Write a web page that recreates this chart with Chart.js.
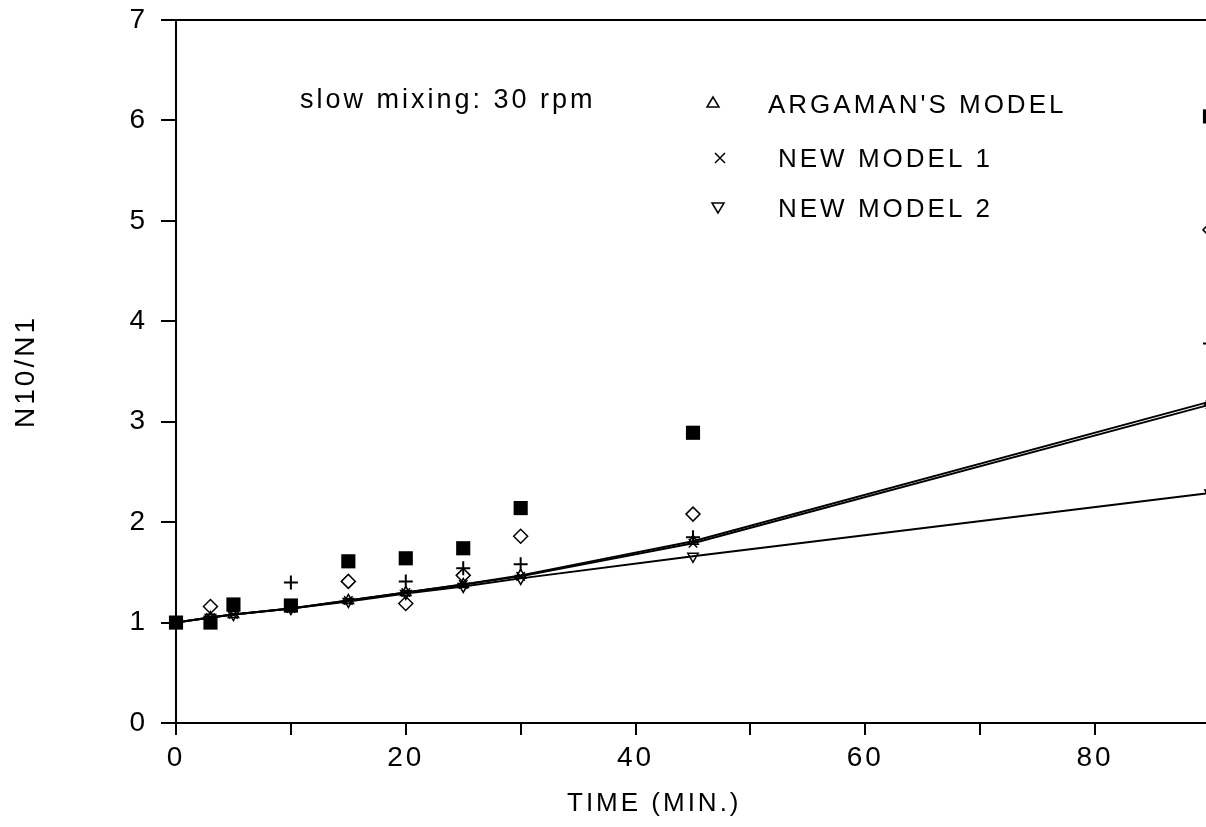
<!DOCTYPE html>
<html>
<head>
<meta charset="utf-8">
<script src="https://cdn.jsdelivr.net/npm/chart.js"></script>
<style>
html,body{margin:0;padding:0;overflow:hidden;background:#fff;width:1206px;height:827px;}
#wrap{position:absolute;left:0;top:0;width:1222px;height:827px;}
canvas{display:block;}
</style>
</head>
<body>
<div id="wrap"><canvas id="c" width="1222" height="827"></canvas></div>
<script>
// ---- data ----
const modelTime   = [0, 3, 5, 10, 15, 20, 25, 30, 45, 90];
const argaman     = [1.00, 1.05, 1.08, 1.14, 1.22, 1.30, 1.38, 1.47, 1.81, 3.20];
const newModel1   = [1.00, 1.05, 1.08, 1.14, 1.22, 1.30, 1.38, 1.46, 1.79, 3.17];
const newModel2   = [1.00, 1.05, 1.08, 1.14, 1.21, 1.29, 1.36, 1.44, 1.66, 2.29];

const squareTime  = [0, 3, 5, 10, 15, 20, 25, 30, 45, 90];
const squareVals  = [1.00, 1.00, 1.18, 1.17, 1.61, 1.64, 1.74, 2.14, 2.89, 6.04];
const diamondTime = [3, 15, 20, 25, 30, 45, 90];
const diamondVals = [1.16, 1.41, 1.19, 1.47, 1.86, 2.08, 4.91];
const plusTime    = [10, 20, 25, 30, 45, 90];
const plusVals    = [1.40, 1.41, 1.54, 1.58, 1.85, 3.78];

const xTicks = [0, 10, 20, 30, 40, 50, 60, 70, 80, 90];
const xLabelled = [0, 20, 40, 60, 80];
const yTicks = [0, 1, 2, 3, 4, 5, 6, 7];

const legendLabels = ["ARGAMAN'S MODEL", "NEW MODEL 1", "NEW MODEL 2"];
const noteText = "slow mixing: 30 rpm";
const xTitle = "TIME (MIN.)";
const yTitle = "N10/N1";

const FONT = "'Liberation Sans', Arial, sans-serif";
const pts = (xs, ys) => xs.map((x, i) => ({x: x, y: ys[i]}));

const spacingPlugin = {
  id: 'spacing',
  beforeUpdate(chart){ chart.ctx.letterSpacing = '3px'; },
  beforeDraw(chart){ chart.ctx.letterSpacing = '3px'; }
};

const notesPlugin = {
  id: 'notes',
  afterDraw(chart) {
    const ctx = chart.ctx;
    ctx.save();
    ctx.letterSpacing = '3px';
    ctx.fillStyle = '#000';
    ctx.strokeStyle = '#000';
    ctx.textBaseline = 'alphabetic';
    ctx.textAlign = 'left';
    ctx.font = '27px ' + FONT;
    ctx.fillText(noteText, 300, 108);
    ctx.font = '26px ' + FONT;
    // legend
    ctx.lineWidth = 1.5;
    // triangle up
    let x = 713, y = 103;
    ctx.beginPath(); ctx.moveTo(x, y - 6); ctx.lineTo(x - 6, y + 4); ctx.lineTo(x + 6, y + 4); ctx.closePath(); ctx.stroke();
    ctx.fillText(legendLabels[0], 768, 113);
    // cross
    x = 720; y = 158;
    ctx.beginPath(); ctx.moveTo(x - 5, y - 5); ctx.lineTo(x + 5, y + 5); ctx.moveTo(x + 5, y - 5); ctx.lineTo(x - 5, y + 5); ctx.stroke();
    ctx.fillText(legendLabels[1], 778, 167);
    // triangle down
    x = 718; y = 207;
    ctx.beginPath(); ctx.moveTo(x, y + 6); ctx.lineTo(x - 6, y - 4); ctx.lineTo(x + 6, y - 4); ctx.closePath(); ctx.stroke();
    ctx.fillText(legendLabels[2], 778, 217);
    // x axis title
    ctx.font = '26px ' + FONT;
    ctx.fillText(xTitle, 567, 811);
    ctx.restore();
  }
};

new Chart(document.getElementById('c'), {
  type: 'line',
  data: {
    datasets: [
      { label: 'exp squares', data: pts(squareTime, squareVals), showLine: false,
        pointStyle: 'rect', pointRadius: 10, backgroundColor: '#000', borderColor: '#000', pointBorderWidth: 0, clip: false },
      { label: 'exp diamonds', data: pts(diamondTime, diamondVals), showLine: false,
        pointStyle: 'rectRot', pointRadius: 7, backgroundColor: 'rgba(255,255,255,0)', borderColor: '#000', pointBorderWidth: 1.5, clip: false },
      { label: 'exp plus', data: pts(plusTime, plusVals), showLine: false,
        pointStyle: 'cross', pointRadius: 7, borderColor: '#000', pointBorderWidth: 2, clip: false },
      { label: legendLabels[0], data: pts(modelTime, argaman), showLine: true, borderColor: '#000', borderWidth: 2,
        pointStyle: 'triangle', pointRadius: 6, pointBackgroundColor: 'rgba(255,255,255,0)', pointBorderColor: '#000', pointBorderWidth: 1.5, tension: 0, clip: false },
      { label: legendLabels[1], data: pts(modelTime, newModel1), showLine: true, borderColor: '#000', borderWidth: 2,
        pointStyle: 'crossRot', pointRadius: 6, pointBorderColor: '#000', pointBorderWidth: 1.5, tension: 0, clip: false },
      { label: legendLabels[2], data: pts(modelTime, newModel2), showLine: true, borderColor: '#000', borderWidth: 2,
        pointStyle: 'triangle', pointRotation: 180, pointRadius: 6, pointBackgroundColor: 'rgba(255,255,255,0)', pointBorderColor: '#000', pointBorderWidth: 1.5, tension: 0, clip: false }
    ]
  },
  options: {
    responsive: false,
    animation: false,
    events: [],
    layout: { padding: { left: 0, top: 20, right: 12, bottom: 0 } },
    plugins: { legend: { display: false }, tooltip: { enabled: false } },
    scales: {
      x: {
        type: 'linear', position: 'bottom', min: 0, max: 90,
        afterBuildTicks(scale){ scale.ticks = xTicks.map(v => ({value: v})); },
        afterFit(scale){ scale.height = 104; scale.paddingLeft = 0; scale.paddingRight = 0; },
        ticks: { autoSkip: false, maxRotation: 0, padding: 6, color: '#000',
          font: { family: FONT, size: 28 },
          callback: v => xLabelled.includes(v) ? String(v) : '' },
        grid: { display: true, drawOnChartArea: false, drawTicks: true, tickLength: 12, color: '#000', lineWidth: 2 },
        border: { display: true, color: '#000', width: 2 },
        title: { display: false }
      },
      x2: {
        type: 'linear', position: 'top', min: 0, max: 90,
        afterFit(scale){ scale.height = 0; scale.paddingLeft = 0; scale.paddingRight = 0; },
        ticks: { display: false, padding: 0 },
        grid: { display: true, drawOnChartArea: false, drawTicks: false },
        border: { display: true, color: '#000', width: 2 }
      },
      y: {
        type: 'linear', position: 'left', min: 0, max: 7,
        afterBuildTicks(scale){ scale.ticks = yTicks.map(v => ({value: v})); },
        afterFit(scale){ scale.width = 176; scale.paddingTop = 0; scale.paddingBottom = 0; },
        ticks: { padding: 13, color: '#000', font: { family: FONT, size: 28 } },
        grid: { display: true, drawOnChartArea: false, drawTicks: true, tickLength: 15, color: '#000', lineWidth: 2 },
        border: { display: true, color: '#000', width: 2 },
        title: { display: true, text: yTitle, color: '#000', font: { family: FONT, size: 28 }, padding: { top: 9, bottom: 0 } }
      }
    }
  },
  plugins: [spacingPlugin, notesPlugin]
});
</script>
</body>
</html>
